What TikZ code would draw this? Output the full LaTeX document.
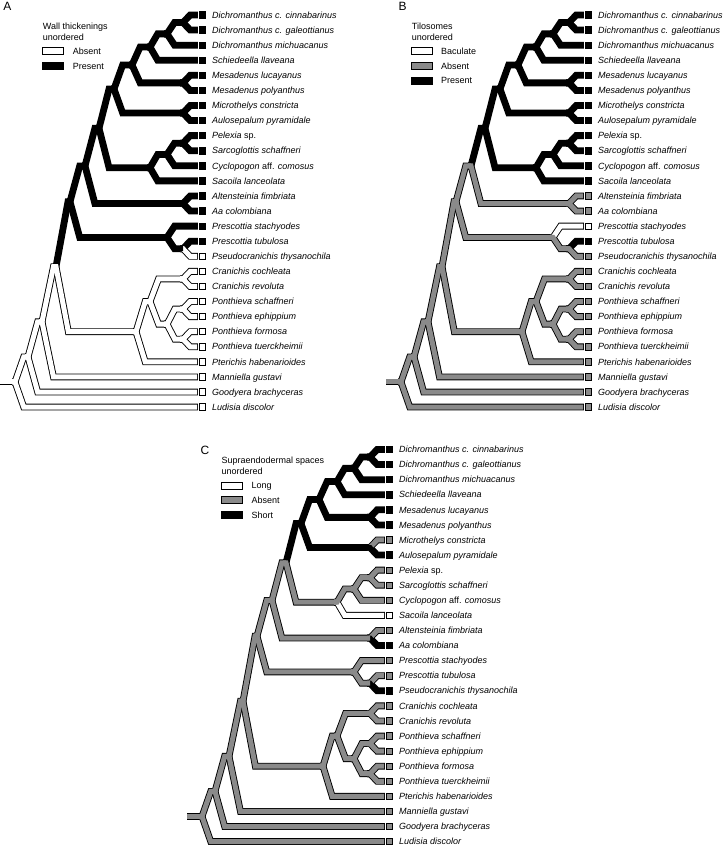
\documentclass[tikz,border=0pt]{standalone}
\usepackage{fontspec}
\setmainfont{Liberation Sans}
\usetikzlibrary{calc}

\definecolor{st-g}{gray}{0.54}
\colorlet{st-k}{black}
\colorlet{st-w}{white}

\tikzset{
  bandline/.style={draw=black, line width=6.8pt, shorten >=-0.8pt},
  bandfill/.style={line width=5pt},
  tipbox/.style={draw=black, line width=0.8pt},
  taxon/.style={anchor=base west, inner sep=0pt, font=\fontsize{9}{11}\selectfont\itshape},
  legtext/.style={anchor=base west, inner sep=0pt, font=\fontsize{9}{11}\selectfont},
  legbox/.style={draw=black, line width=0.8pt, minimum width=21pt, minimum height=7pt, inner sep=0pt},
  tag/.style={inner sep=0pt, font=\fontsize{12}{12}\selectfont}
}

% tips and inner nodes of one tree, #1 prefix, #2 origin
\newcommand\treecoords[2]{%
  \foreach \i in {0,...,26} {\coordinate (#1-t\i) at ($(#2)+(197,{15+15.08*\i})$);}
  \coordinate (#1-n01)   at ($(#2)+(183,22.54)$);
  \coordinate (#1-n012)  at ($(#2)+(167,33.85)$);
  \coordinate (#1-n0123) at ($(#2)+(150,47.05)$);
  \coordinate (#1-n45)   at ($(#2)+(183,82.86)$);
  \coordinate (#1-nb)    at ($(#2)+(132,64.96)$);
  \coordinate (#1-n67)   at ($(#2)+(183,113.02)$);
  \coordinate (#1-na)    at ($(#2)+(114,88.99)$);
  \coordinate (#1-n89)   at ($(#2)+(183,143.18)$);
  \coordinate (#1-n8910) at ($(#2)+(167,154.49)$);
  \coordinate (#1-n811)  at ($(#2)+(150,167.69)$);
  \coordinate (#1-nd)    at ($(#2)+(99,128.34)$);
  \coordinate (#1-n1213) at ($(#2)+(183,203.50)$);
  \coordinate (#1-ne)    at ($(#2)+(85,165.92)$);
  \coordinate (#1-n1516) at ($(#2)+(183,248.74)$);
  \coordinate (#1-n1416) at ($(#2)+(167,237.43)$);
  \coordinate (#1-nf)    at ($(#2)+(70,201.68)$);
  \coordinate (#1-ncr)   at ($(#2)+(183,278.90)$);
  \coordinate (#1-n1920) at ($(#2)+(183,309.06)$);
  \coordinate (#1-n2122) at ($(#2)+(183,339.22)$);
  \coordinate (#1-npo)   at ($(#2)+(167,324.14)$);
  \coordinate (#1-ncp)   at ($(#2)+(150,301.52)$);
  \coordinate (#1-nw)    at ($(#2)+(136,331.68)$);
  \coordinate (#1-ng)    at ($(#2)+(56,266.68)$);
  \coordinate (#1-nh)    at ($(#2)+(42,321.80)$);
  \coordinate (#1-ni)    at ($(#2)+(28,356.90)$);
  \coordinate (#1-root)  at ($(#2)+(15,381.99)$);
  \coordinate (#1-s0)    at ($(#2)+(3,381.99)$);
}

% parent/child/state in A/B/C
\newcommand\tipedges{n01/t0/k/k/k, n01/t1/k/k/k, n012/t2/k/k/k, n0123/t3/k/k/k,
  n45/t4/k/k/k, n45/t5/k/k/k, n67/t6/k/k/g, n67/t7/k/k/k, n89/t8/k/k/g,
  n89/t9/k/k/g, n8910/t10/k/k/g, n811/t11/k/k/w, n1213/t12/k/g/g, n1213/t13/k/g/k,
  n1416/t14/k/w/g, n1516/t15/k/k/g, n1516/t16/w/g/k, ncr/t17/w/g/g, ncr/t18/w/g/g,
  n1920/t19/w/g/g, n1920/t20/w/g/g, n2122/t21/w/g/g, n2122/t22/w/g/g,
  nw/t23/w/g/g, nh/t24/w/g/g, ni/t25/w/g/g, root/t26/w/g/g}
\newcommand\nodeedges{n012/n01/k/k/k, n0123/n012/k/k/k, nb/n0123/k/k/k, nb/n45/k/k/k,
  na/nb/k/k/k, na/n67/k/k/k, nd/na/k/k/k, n8910/n89/k/k/g, n811/n8910/k/k/g,
  nd/n811/k/k/g, ne/nd/k/k/g, ne/n1213/k/g/g, n1416/n1516/k/g/g, nf/n1416/k/g/g,
  nf/ne/k/g/g, ng/nf/k/g/g, npo/n1920/w/g/g, npo/n2122/w/g/g, ncp/ncr/w/g/g,
  ncp/npo/w/g/g, nw/ncp/w/g/g, ng/nw/w/g/g, nh/ng/w/g/g, ni/nh/w/g/g,
  root/ni/w/g/g, s0/root/w/g/g}

\newcommand\taxa{0/{Dichromanthus c. cinnabarinus}, 1/{Dichromanthus c. galeottianus},
  2/{Dichromanthus michuacanus}, 3/{Schiedeella llaveana}, 4/{Mesadenus lucayanus},
  5/{Mesadenus polyanthus}, 6/{Microthelys constricta}, 7/{Aulosepalum pyramidale},
  8/{Pelexia {\upshape sp.}}, 9/{Sarcoglottis schaffneri},
  10/{Cyclopogon {\upshape aff.} comosus}, 11/{Sacoila lanceolata},
  12/{Altensteinia fimbriata}, 13/{Aa colombiana}, 14/{Prescottia stachyodes},
  15/{Prescottia tubulosa}, 16/{Pseudocranichis thysanochila}, 17/{Cranichis cochleata},
  18/{Cranichis revoluta}, 19/{Ponthieva schaffneri}, 20/{Ponthieva ephippium},
  21/{Ponthieva formosa}, 22/{Ponthieva tuerckheimii}, 23/{Pterichis habenarioides},
  24/{Manniella gustavi}, 25/{Goodyera brachyceras}, 26/{Ludisia discolor}}

% one branch: short lead-in, slant, then level
\newcommand\branch[3]{%
  \draw[#3] let \p1=(#1), \p2=(#2),
      \n1={min(\x2-\x1-2pt,6.5pt+0.09*abs(\y2-\y1))} in
    (\x1-3pt,\y1) -- (\x1,\y1) -- ({\x1+\n1*1pt},\y2) -- (\x2,\y2);}

% #1 prefix, #2 state column
\newcommand\drawtree[2]{%
  \foreach \pn/\cn/\ka/\kb/\kc in \tipedges {\branch{#1-\pn}{#1-\cn}{bandline}}
  \foreach \pn/\cn/\ka/\kb/\kc in \nodeedges {\branch{#1-\pn}{#1-\cn}{bandline}}
  \foreach \pn/\cn/\ka/\kb/\kc in \tipedges {\branch{#1-\pn}{#1-\cn}{bandfill, draw=st-#2}}
  \foreach \pn/\cn/\ka/\kb/\kc in \nodeedges {\branch{#1-\pn}{#1-\cn}{bandfill, draw=st-#2}}
  \foreach \pn/\cn/\ka/\kb/\kc in \tipedges
    {\draw[tipbox, fill=st-#2] ($(#1-\cn)+(1.9,-3.2)$) rectangle ($(#1-\cn)+(7.9,3.2)$);}
  \foreach \i/\name in \taxa {\node[taxon] (#1-lab\i) at ($(#1-t\i)+(15,3.2)$) {\name};}
}

\begin{document}
\begin{tikzpicture}[x=1pt, y=-1pt]
  \useasboundingbox (0,0) rectangle (725,846);

  % A: wall thickenings
  \treecoords{A}{0,0}
  \drawtree{A}{\ka}
  \node[tag] (A-tag) at (7.5,6) {A};
  \node[legtext] (A-title1) at (42.7,29.2) {Wall thickenings};
  \node[legtext] (A-title2) at (42.7,40.2) {unordered};
  \node[legbox, fill=st-w] (A-box1) at (53.2,51) {};
  \node[legtext] (A-key1) at (72.7,54.2) {Absent};
  \node[legbox, fill=st-k] (A-box2) at (53.2,65.8) {};
  \node[legtext] (A-key2) at (72.7,69) {Present};

  % B: tilosomes
  \treecoords{B}{386,0}
  \drawtree{B}{\kb}
  \node[tag] (B-tag) at (402.5,6) {B};
  \node[legtext] (B-title1) at (411.7,29.2) {Tilosomes};
  \node[legtext] (B-title2) at (411.7,40.2) {unordered};
  \node[legbox, fill=st-w] (B-box1) at (422.2,51) {};
  \node[legtext] (B-key1) at (441,54.2) {Baculate};
  \node[legbox, fill=st-g] (B-box2) at (422.2,65.8) {};
  \node[legtext] (B-key2) at (441,69) {Absent};
  \node[legbox, fill=st-k] (B-box3) at (422.2,80.6) {};
  \node[legtext] (B-key3) at (441,83.8) {Present};

  % C: supraendodermal spaces
  \treecoords{C}{187,434.5}
  \drawtree{C}{\kc}
  \node[tag] (C-tag) at (205,450) {C};
  \node[legtext] (C-title1) at (221.5,463.7) {Supraendodermal spaces};
  \node[legtext] (C-title2) at (221.5,474.7) {unordered};
  \node[legbox, fill=st-w] (C-box1) at (232,485.5) {};
  \node[legtext] (C-key1) at (251.5,488.7) {Long};
  \node[legbox, fill=st-g] (C-box2) at (232,500.3) {};
  \node[legtext] (C-key2) at (251.5,503.5) {Absent};
  \node[legbox, fill=st-k] (C-box3) at (232,515.1) {};
  \node[legtext] (C-key3) at (251.5,518.3) {Short};
\end{tikzpicture}
\end{document}
